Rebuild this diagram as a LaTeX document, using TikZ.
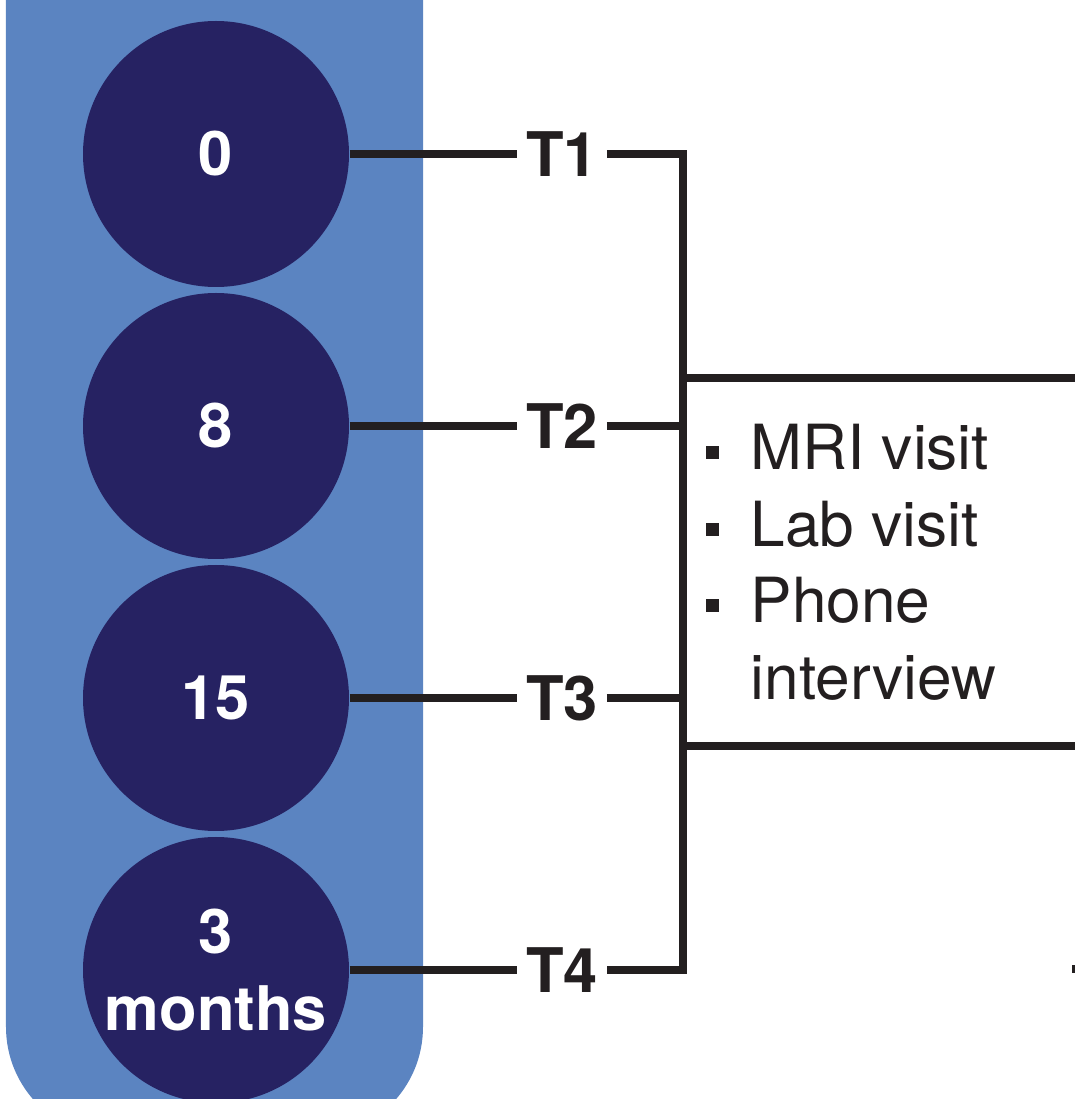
\documentclass[tikz,border=0pt]{standalone}
\usepackage{fontspec}
\setmainfont{TeX Gyre Heros}
\usetikzlibrary{positioning}
\definecolor{panelblue}{HTML}{5B84C1}
\definecolor{navy}{HTML}{262262}
\definecolor{ink}{HTML}{231F20}
\newcommand{\sqbullet}{\makebox[0.45cm][l]{\rule[0.11cm]{0.13cm}{0.13cm}}}
\tikzset{
	visit/.style={circle, fill=navy, minimum size=2.66cm, inner sep=0, text=white, align=center, font=\bfseries\fontsize{17.5}{21.9}\selectfont},
	tlabel/.style={text=ink, inner sep=0.09cm, outer sep=0, font=\bfseries\fontsize{17.5}{21}\selectfont},
	link/.style={ink, line width=2.1pt},
	item/.style={anchor=base west, inner sep=0, text=ink, font=\fontsize{17.7}{21}\selectfont},
}

\begin{document}
\begin{tikzpicture}
		\useasboundingbox (0,0) rectangle (10.75,10.99);
		\begin{scope}
			\clip (0,0) rectangle (10.75,10.99);
			\fill[panelblue, rounded corners=1.1cm] (0.06,-0.38) rectangle (4.23,12.5);
		\end{scope}
		
		\coordinate (boxtl) at (6.83,7.21);
		\coordinate (boxtr) at (10.8,7.21);
		\coordinate (boxbl) at (6.83,3.53);
		\coordinate (boxbr) at (10.8,3.53);
		
		\foreach \n/\y/\txt in {1/9.45/0, 2/6.73/8, 3/4.01/15, 4/1.29/{3\\months}} {
			\node[visit] (c\n) at (2.16,\y) {\txt};
			\node[tlabel] (t\n) at (5.62,\y) {T\n};
			\coordinate (j\n) at (6.83,\y);
			\draw[link] (c\n) -- (t\n);
		}
		
		\draw[link] (t1) -- (j1) -- (j4) -- (t4);
		\foreach \n in {2, 3} {
			\draw[link] (t\n) -- (j\n);
		}
		\draw[link] (boxtl) -- (boxtr);
		\draw[link] (boxbl) -- (boxbr);
		
		\foreach \k/\y/\txt in {1/6.29/{\sqbullet MRI visit}, 2/5.52/{\sqbullet Lab visit}, 3/4.76/{\sqbullet Phone}, 4/3.99/{\hspace{0.45cm}interview}} {
			\node[item] (visit\k) at (7.05,\y) {\txt};
		}
		
		\fill[ink] (10.72,1.26) rectangle (10.76,1.34);
	\end{tikzpicture}
\end{document}
